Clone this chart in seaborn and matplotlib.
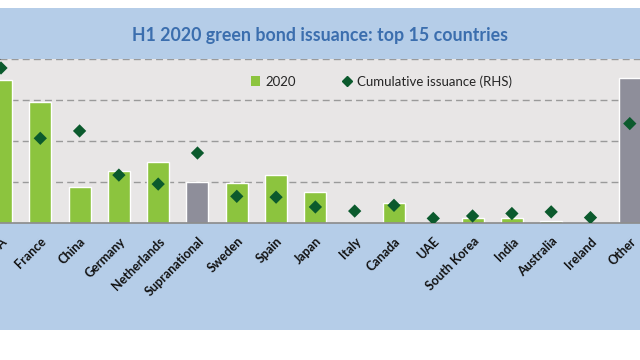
import matplotlib
matplotlib.use('Agg')
import matplotlib.pyplot as plt
import seaborn as sns
import pandas as pd
import numpy as np
from matplotlib.patches import Patch, Rectangle
from matplotlib.lines import Line2D

countries = ['USA', 'France', 'China', 'Germany', 'Netherlands', 'Supranational',
             'Sweden', 'Spain', 'Japan', 'Italy', 'Canada', 'UAE', 'South Korea',
             'India', 'Australia', 'Ireland', 'Other']
# H1 2020 issuance (left axis)
issuance_2020 = [34.8, 29.5, 8.6, 12.6, 14.7, 10.0, 9.6, 11.6, 7.5, 0.0, 4.8,
                 0.0, 1.0, 1.0, 0.4, 0.0, 35.3]
# cumulative issuance (right axis)
cumulative = [189, 103, 112, 58, 47, 85, 32, 31, 19, 14, 21, 5, 8, 11, 13, 6, 121]

GREEN = '#8cc43e'
GREY = '#8e8e9a'
DARK = '#0b5a2d'
BLUE = '#b5cde8'
PLOT_BG = '#e8e6e6'

df = pd.DataFrame({'country': countries, 'y2020': issuance_2020, 'cum': cumulative})
palette = {c: (GREY if c in ('Supranational', 'Other') else GREEN) for c in countries}

sns.set_style('white')
plt.rcParams['font.family'] = ['Lato', 'DejaVu Sans']

fig = plt.figure(figsize=(6.4, 3.6), dpi=100, facecolor='white')
# blue band behind title and labels
band = Rectangle((0, 30 / 360), 1, 322 / 360, transform=fig.transFigure,
                 facecolor=BLUE, edgecolor='none', zorder=-10)
fig.add_artist(band)

ax = fig.add_axes([0, 137.5 / 360, 1, 163.5 / 360])
ax.set_facecolor(PLOT_BG)
sns.barplot(data=df, x='country', y='y2020', hue='country', palette=palette,
            width=0.56, saturation=1, legend=False, ax=ax)
ax.set_ylim(0, 40)
ax.set_yticks([10, 20, 30, 40])
ax.set_axisbelow(True)
ax.grid(axis='y', linestyle=(0, (5, 3)), color='#9a9a9a', linewidth=1)
ax.tick_params(axis='y', left=False, labelleft=False)
ax.tick_params(axis='x', length=0, pad=9)
for s in ['left', 'right', 'top']:
    ax.spines[s].set_visible(False)
ax.spines['bottom'].set_color('#8a8a8a')
ax.spines['bottom'].set_linewidth(1.2)
ax.set_xlabel('')
ax.set_ylabel('')
ax.set_xticks(range(len(countries)))
ax.set_xticklabels(countries, rotation=45, ha='right', rotation_mode='anchor',
                   fontsize=9, fontweight='bold', color='#111111')

ax2 = ax.twinx()
sns.scatterplot(data=df, x='country', y='cum', marker='D', color=DARK, s=46,
                edgecolor='none', linewidth=0, ax=ax2, legend=False, zorder=5)
ax2.set_ylim(0, 200)
ax2.set_yticks([])
ax2.set_ylabel('')
for s in ['left', 'right', 'top', 'bottom']:
    ax2.spines[s].set_visible(False)
ax.set_xlim(-0.025, 16.26)
ax2.set_xlim(-0.025, 16.26)

handles = [Patch(facecolor=GREEN, edgecolor='none'),
           Line2D([], [], marker='D', color=DARK, linestyle='none', markersize=5)]
ax2.legend(handles, ['2020', 'Cumulative issuance (RHS)'], ncol=2, frameon=False,
           loc='upper center', bbox_to_anchor=(0.596, 0.975), fontsize=9.5,
           handlelength=0.7, handletextpad=0.4, columnspacing=3.5)

fig.text(0.5, 1 - 36 / 360, 'H1 2020 green bond issuance: top 15 countries',
         ha='center', va='center', fontsize=12.8, fontweight='bold', color='#3b6eae')

fig.savefig('out.png', dpi=100, facecolor='white')
